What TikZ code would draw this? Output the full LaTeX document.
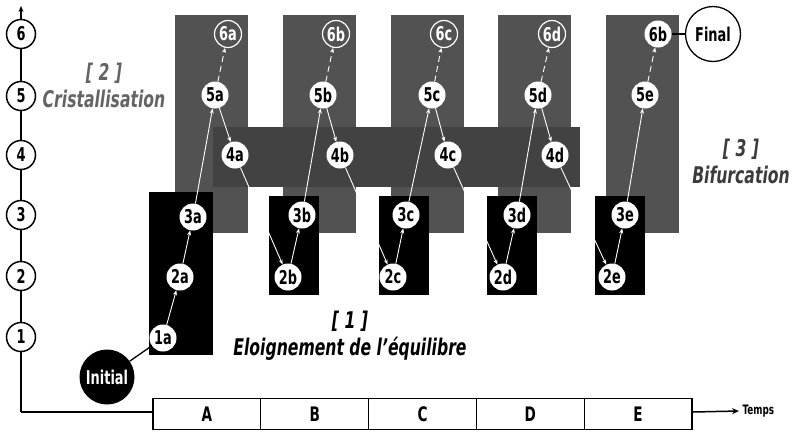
\documentclass[tikz,border=0pt]{standalone}
\usepackage{fontspec}
\usetikzlibrary{arrows.meta}
\newfontfamily\cf{DejaVu Sans}[FakeStretch=0.68]
\definecolor{colgray}{RGB}{82,82,82}
\definecolor{bandgray}{RGB}{66,66,66}
\definecolor{labgrayA}{RGB}{100,100,100}
\definecolor{labgrayB}{RGB}{60,60,60}
\newcommand{\fsz}[1]{\fontsize{#1}{#1}\selectfont}
\tikzset{
  lvl/.style={circle, draw=black, line width=1.5pt, fill=white, minimum size=29pt,
    inner sep=0pt, font=\cf\bfseries\fsz{19}},
  st/.style={circle, fill=white, minimum size=27pt, inner sep=0pt, font=\cf\bfseries\fsz{19}},
  stopen/.style={circle, draw=white, line width=1.2pt, minimum size=27pt, inner sep=0pt,
    text=white, font=\cf\bfseries\fsz{19}},
  bigc/.style={circle, minimum size=55pt, inner sep=0pt, font=\cf\bfseries\fsz{19}},
  flow/.style={white, line width=0.9pt, -{Stealth[length=5pt,width=4pt]}},
  flowd/.style={flow, dash pattern=on 6pt off 4pt},
  tcell/.style={rectangle, draw=black, line width=1.3pt, fill=white, minimum width=107.8pt,
    minimum height=31pt, inner sep=0pt, font=\cf\bfseries\fsz{20}},
  phase/.style={align=center, font=\cf\bfseries\itshape\fontsize{23}{27}\selectfont},
}
\begin{document}
\begin{tikzpicture}[x=1pt, y=-1pt]
\useasboundingbox (0,0) rectangle (794,432);
% gray columns (one per time slot)
\foreach \xl in {175,283,391,498,606}
  \fill[colgray] (\xl,15) rectangle ++(73,218);
% darker horizontal band at level 4
\fill[bandgray] (213,127) rectangle (580,187);
% black boxes (levels 1-3)
\fill[black] (149,192) rectangle (213,355);
\foreach \xl in {269,379,487,595}
  \fill[black] (\xl,196) rectangle ++(50,99);

% vertical axis and levels
\coordinate (origin) at (21,412);
\coordinate (ytop) at (21,6);
\draw[line width=1.3pt, -{Stealth[length=6pt,width=5pt]}] (origin) -- (ytop);
\node[lvl] (l1) at (21,337) {1};
\node[lvl] (l2) at (21,276) {2};
\node[lvl] (l3) at (21,215) {3};
\node[lvl] (l4) at (21,155) {4};
\node[lvl] (l5) at (21,96) {5};
\node[lvl] (l6) at (21,34) {6};

% time axis
\node[tcell] (tA) at (206.9,414) {A};
\node[tcell] (tB) at (314.7,414) {B};
\node[tcell] (tC) at (422.5,414) {C};
\node[tcell] (tD) at (530.3,414) {D};
\node[tcell] (tE) at (638.1,414) {E};
\draw[line width=1.3pt] (origin) -- (tA.west |- origin);
\node[font=\cf\bfseries\fsz{13}, anchor=west] (temps) at (739,411) {Temps};
\draw[line width=1.5pt, -{Stealth[length=7pt,width=6pt]}] (tE.east |- origin) -- (temps.west);

% states
\node[bigc, fill=black, text=white] (init) at (107,377) {Initial};
\node[st] (1a) at (163,338) {1a};
\node[st] (2a) at (180,277) {2a};
\node[st] (3a) at (193,217) {3a};
\node[st] (4a) at (235,155) {4a};
\node[st] (5a) at (215,95) {5a};
\node[stopen] (6a) at (228,34) {6a};

\node[st] (2b) at (288,277) {2b};
\node[st] (3b) at (302,215) {3b};
\node[st] (4b) at (340,155) {4b};
\node[st] (5b) at (323,95) {5b};
\node[stopen] (6b) at (336,34) {6b};

\node[st] (2c) at (393,277) {2c};
\node[st] (3c) at (406,215) {3c};
\node[st] (4c) at (448,155) {4c};
\node[st] (5c) at (432,95) {5c};
\node[stopen] (6c) at (444,34) {6c};

\node[st] (2d) at (503,277) {2d};
\node[st] (3d) at (517,215) {3d};
\node[st] (4d) at (555,155) {4d};
\node[st] (5d) at (538,95) {5d};
\node[stopen] (6d) at (552,34) {6d};

\node[st] (2e) at (612,277) {2e};
\node[st] (3e) at (625,215) {3e};
\node[st] (5e) at (645,95) {5e};
\node[st] (6e) at (658,34) {6b};
\node[bigc, draw=black, line width=1.3pt, fill=white] (final) at (713,34) {Final};

% transitions
\draw[black, line width=1.3pt] (init) -- (1a);
\draw[flow] (1a) -- (2a);
\draw[flow] (2a) -- (3a);
\draw[flow] (3a) -- (5a);
\draw[flow] (5a) -- (4a);
\draw[flowd] (5a) -- (6a);
\draw[flow] (4a) -- (2b);
\draw[flow] (2b) -- (3b);
\draw[flow] (3b) -- (5b);
\draw[flow] (5b) -- (4b);
\draw[flowd] (5b) -- (6b);
\draw[flow] (4b) -- (2c);
\draw[flow] (2c) -- (3c);
\draw[flow] (3c) -- (5c);
\draw[flow] (5c) -- (4c);
\draw[flowd] (5c) -- (6c);
\draw[flow] (4c) -- (2d);
\draw[flow] (2d) -- (3d);
\draw[flow] (3d) -- (5d);
\draw[flow] (5d) -- (4d);
\draw[flowd] (5d) -- (6d);
\draw[flow] (4d) -- (2e);
\draw[flow] (2e) -- (3e);
\draw[flow] (3e) -- (5e);
\draw[flowd] (5e) -- (6e);
\draw[black, line width=1.3pt] (6e) -- (final);

% phase labels
\node[phase, text=labgrayA] (ph2) at (104,85) {[ 2 ]\\Cristallisation};
\node[phase, text=labgrayB] (ph3) at (741,161) {[ 3 ]\\Bifurcation};
\node[phase, text=black] (ph1) at (350,336) {[ 1 ]\\Eloignement de l’équilibre};
\end{tikzpicture}
\end{document}
